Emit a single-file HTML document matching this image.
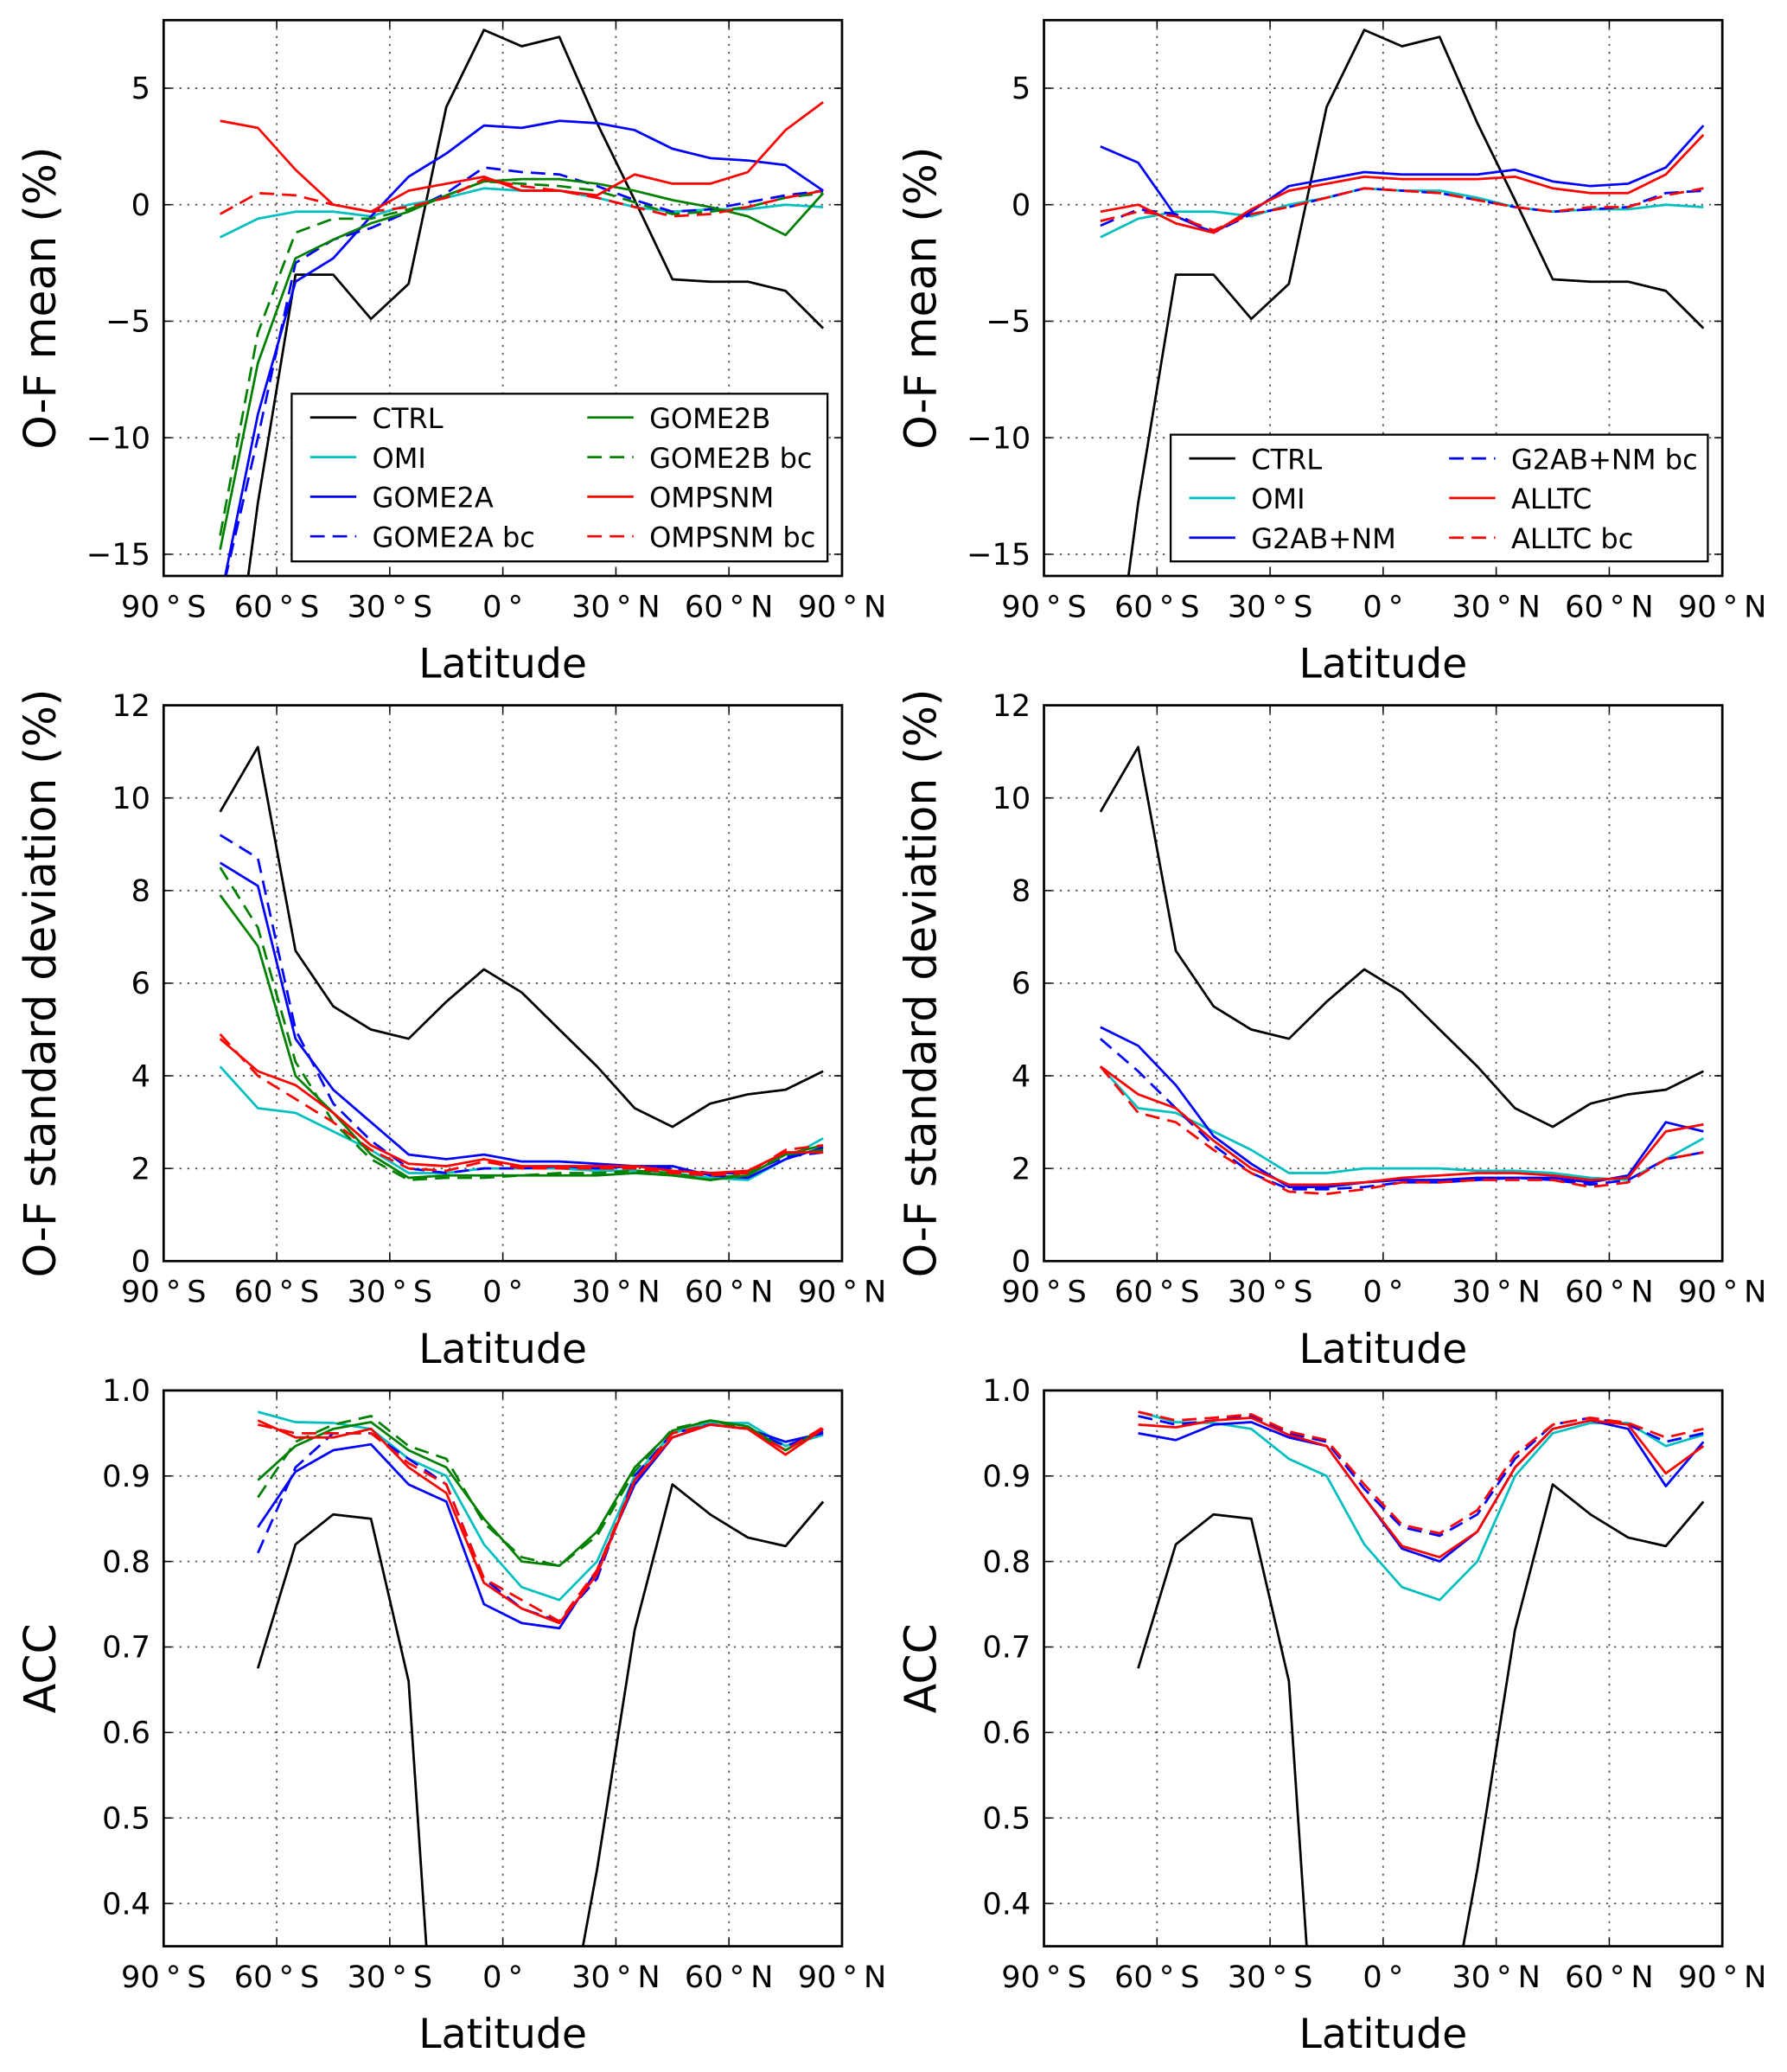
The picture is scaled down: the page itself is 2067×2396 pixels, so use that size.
<!DOCTYPE html>
<html><head><meta charset="utf-8"><style>
html,body{margin:0;padding:0;background:#fff;width:2067px;height:2396px;overflow:hidden}
svg{display:block}
text{font-family:"DejaVu Sans","Liberation Sans",sans-serif;fill:#000}
</style></head><body>
<svg id="fig" xmlns="http://www.w3.org/2000/svg" width="2067" height="2396" viewBox="0 0 1354 1569"></svg>
<script>
const lat17=[-75,-65,-55,-45,-35,-25,-15,-5,5,15,25,35,45,55,65,75,85];
const lat16=[-65,-55,-45,-35,-25,-15,-5,5,15,25,35,45,55,65,75,85];
const xTicks=[-90,-60,-30,0,30,60,90];
const xTickLabels=["90\u2009°\u2009S","60\u2009°\u2009S","30\u2009°\u2009S","0\u2009°","30\u2009°\u2009N","60\u2009°\u2009N","90\u2009°\u2009N"];
const meanTicks=[5,0,-5,-10,-15];
const meanTickLabels=["5","0","\u22125","\u221210","\u221215"];
const sdTicks=[0,2,4,6,8,10,12];
const accTicks=[0.4,0.5,0.6,0.7,0.8,0.9,1.0];
const accTickLabels=["0.4","0.5","0.6","0.7","0.8","0.9","1.0"];

const meanCTRL=[-25,-12.8,-3,-3,-4.9,-3.4,4.2,7.5,6.8,7.2,3.5,0.2,-3.2,-3.3,-3.3,-3.7,-5.3];
const meanOMI=[-1.4,-0.6,-0.3,-0.3,-0.5,0.0,0.3,0.7,0.6,0.6,0.3,-0.1,-0.3,-0.2,-0.2,0.0,-0.1];
const meanGOME2A=[-17,-9,-3.3,-2.3,-0.5,1.2,2.2,3.4,3.3,3.6,3.5,3.2,2.4,2.0,1.9,1.7,0.6];
const meanGOME2Abc=[-17,-10,-2.5,-1.5,-1.0,-0.3,0.5,1.6,1.4,1.3,0.8,0.2,-0.3,-0.2,0.1,0.4,0.6];
const meanGOME2B=[-14.8,-6.8,-2.3,-1.5,-0.8,-0.3,0.4,1.0,1.1,1.1,0.9,0.6,0.2,-0.1,-0.5,-1.3,0.5];
const meanGOME2Bbc=[-14.2,-5.5,-1.2,-0.6,-0.6,-0.2,0.4,1.0,0.9,0.8,0.6,0.1,-0.4,-0.3,-0.1,0.3,0.5];
const meanOMPSNM=[3.6,3.3,1.5,0.0,-0.3,0.6,0.9,1.2,0.6,0.6,0.4,1.3,0.9,0.9,1.4,3.2,4.4];
const meanOMPSNMbc=[-0.4,0.5,0.4,0.0,-0.3,-0.1,0.3,1.1,0.8,0.6,0.3,-0.1,-0.5,-0.4,-0.1,0.3,0.6];
const meanG2AB=[2.5,1.8,-0.5,-1.2,-0.3,0.8,1.1,1.4,1.3,1.3,1.3,1.5,1.0,0.8,0.9,1.6,3.4];
const meanG2ABbc=[-0.9,-0.2,-0.4,-1.2,-0.4,-0.1,0.3,0.7,0.6,0.5,0.2,-0.1,-0.3,-0.2,-0.1,0.5,0.6];
const meanALLTC=[-0.3,0.0,-0.8,-1.2,-0.2,0.6,0.9,1.2,1.1,1.1,1.1,1.2,0.7,0.5,0.5,1.3,3.0];
const meanALLTCbc=[-0.7,-0.3,-0.5,-1.1,-0.4,-0.1,0.3,0.7,0.6,0.5,0.2,-0.1,-0.3,-0.1,-0.1,0.4,0.7];

const sdCTRL=[9.7,11.1,6.7,5.5,5.0,4.8,5.6,6.3,5.8,5.0,4.2,3.3,2.9,3.4,3.6,3.7,4.1];
const sdOMI=[4.2,3.3,3.2,2.8,2.4,1.9,1.9,2.0,2.0,2.0,1.95,1.95,1.9,1.8,1.75,2.2,2.65];
const sdGOME2A=[8.6,8.1,4.8,3.7,3.0,2.3,2.2,2.3,2.15,2.15,2.1,2.05,2.05,1.85,1.8,2.2,2.45];
const sdGOME2Abc=[9.2,8.7,5.0,3.4,2.6,2.0,1.9,2.0,2.0,2.05,2.0,2.05,2.0,1.9,1.9,2.25,2.35];
const sdGOME2B=[7.9,6.8,4.0,3.2,2.3,1.8,1.85,1.85,1.85,1.85,1.85,1.9,1.85,1.75,1.85,2.3,2.5];
const sdGOME2Bbc=[8.5,7.2,4.3,3.0,2.2,1.75,1.8,1.8,1.85,1.9,1.9,1.95,1.9,1.75,1.9,2.3,2.4];
const sdOMPSNM=[4.8,4.1,3.8,3.2,2.5,2.1,2.05,2.2,2.05,2.05,2.05,2.05,1.95,1.9,1.95,2.35,2.35];
const sdOMPSNMbc=[4.9,4.0,3.5,3.0,2.4,2.0,1.95,2.15,2.0,2.0,2.0,2.0,1.9,1.85,1.9,2.4,2.5];
const sdG2AB=[5.05,4.65,3.8,2.7,2.1,1.6,1.6,1.7,1.75,1.75,1.8,1.8,1.8,1.7,1.85,3.0,2.8];
const sdG2ABbc=[4.8,4.1,3.3,2.5,1.9,1.55,1.55,1.6,1.7,1.7,1.75,1.8,1.75,1.65,1.75,2.2,2.35];
const sdALLTC=[4.2,3.6,3.3,2.6,2.0,1.65,1.65,1.7,1.8,1.85,1.9,1.9,1.85,1.75,1.8,2.8,2.95];
const sdALLTCbc=[4.2,3.2,3.0,2.4,1.9,1.5,1.45,1.55,1.7,1.7,1.75,1.75,1.75,1.6,1.7,2.2,2.35];

const accCTRL=[0.675,0.82,0.855,0.85,0.66,0.0,-0.2,-0.2,0.2,0.44,0.72,0.89,0.855,0.828,0.818,0.87];
const accOMI=[0.975,0.963,0.962,0.955,0.92,0.9,0.82,0.77,0.755,0.80,0.90,0.95,0.962,0.962,0.935,0.948];
const accGOME2A=[0.84,0.905,0.93,0.937,0.89,0.87,0.75,0.728,0.722,0.79,0.89,0.945,0.96,0.955,0.94,0.95];
const accGOME2Abc=[0.81,0.91,0.95,0.95,0.92,0.89,0.78,0.745,0.73,0.78,0.90,0.95,0.96,0.955,0.935,0.952];
const accGOME2B=[0.895,0.935,0.955,0.963,0.93,0.91,0.85,0.80,0.795,0.835,0.91,0.953,0.965,0.958,0.93,0.955];
const accGOME2Bbc=[0.875,0.94,0.96,0.97,0.935,0.92,0.845,0.805,0.795,0.83,0.905,0.955,0.965,0.955,0.93,0.955];
const accOMPSNM=[0.965,0.945,0.945,0.955,0.91,0.88,0.775,0.745,0.728,0.785,0.895,0.945,0.96,0.955,0.925,0.955];
const accOMPSNMbc=[0.96,0.95,0.95,0.95,0.915,0.89,0.78,0.755,0.73,0.79,0.895,0.95,0.96,0.955,0.93,0.957];
const accG2AB=[0.95,0.942,0.96,0.963,0.945,0.935,0.875,0.815,0.80,0.835,0.91,0.955,0.965,0.955,0.888,0.94];
const accG2ABbc=[0.97,0.96,0.965,0.97,0.95,0.94,0.885,0.84,0.83,0.855,0.92,0.96,0.968,0.96,0.94,0.95];
const accALLTC=[0.96,0.957,0.965,0.968,0.948,0.935,0.875,0.818,0.805,0.835,0.91,0.955,0.965,0.96,0.903,0.935];
const accALLTCbc=[0.975,0.965,0.968,0.972,0.952,0.942,0.89,0.843,0.833,0.86,0.925,0.96,0.968,0.962,0.945,0.955];

const NS="http://www.w3.org/2000/svg";
const svg=document.getElementById('fig');
function mk(tag,attrs,parent){const e=document.createElementNS(NS,tag);for(const k in attrs)e.setAttribute(k,attrs[k]);(parent||svg).appendChild(e);return e;}
const DASH="11,6";
let clipId=0;

function panel(o){
  const g=mk('g',{});
  
  
  const L=o.x0,R=o.x0+514,T=o.y0,B=o.y0+421;
  const xs=v=>L+(v+90)/180*(R-L);
  const ys=v=>B-(v-o.ymin)/(o.ymax-o.ymin)*(B-T);
  xTicks.forEach(t=>{if(t>-90&&t<90){const l=mk('line',{x1:xs(t),x2:xs(t),y1:T,y2:B,stroke:'#555','stroke-width':1.2,'stroke-dasharray':'1.5,4.5'},g);}});
  o.yTicks.forEach(t=>{const y=ys(t);if(y>T+1&&y<B-1){const l=mk('line',{x1:L,x2:R,y1:y,y2:y,stroke:'#555','stroke-width':1.2,'stroke-dasharray':'1.5,4.5'},g);}});
  xTicks.forEach((t,i)=>{
    mk('line',{x1:xs(t),x2:xs(t),y1:B,y2:B-6,stroke:'#000','stroke-width':1},g);
    mk('line',{x1:xs(t),x2:xs(t),y1:T,y2:T+6,stroke:'#000','stroke-width':1},g);
    const tx=mk('text',{x:xs(t),y:B+31,'text-anchor':'middle','font-size':23},g);
    tx.textContent=xTickLabels[i];
    
  });
  o.yTicks.forEach((t,i)=>{
    const y=ys(t);
    mk('line',{x1:L,x2:L+6,y1:y,y2:y,stroke:'#000','stroke-width':1},g);
    mk('line',{x1:R,x2:R-6,y1:y,y2:y,stroke:'#000','stroke-width':1},g);
    const tx=mk('text',{x:L-10,y:y+8,'text-anchor':'end','font-size':23},g);
    tx.textContent=o.yLabels[i];
    
  });
  const cid='c'+(clipId++);
  const cp=mk('clipPath',{id:cid},g);mk('rect',{x:L,y:T,width:R-L,height:B-T},cp);
  const sg=mk('g',{'clip-path':'url(#'+cid+')'},g);
  o.series.forEach(s=>{
    const pts=s.v.map((v,i)=>xs(s.lat[i]).toFixed(1)+','+ys(v).toFixed(1)).join(' ');
    const p=mk('polyline',{points:pts,fill:'none',stroke:s.c,'stroke-width':1.8,'stroke-linejoin':'round'},sg);
    if(s.d)p.setAttribute('stroke-dasharray',DASH);
    
    
  });
  const fr=mk('rect',{x:L,y:T,width:R-L,height:B-T,fill:'none',stroke:'#000','stroke-width':1.8},g);
  
  const xl=mk('text',{x:(L+R)/2,y:B+77,'text-anchor':'middle','font-size':31},g);
  xl.textContent='Latitude';
  const yx=o.x0-82,yc=(T+B)/2;
  const yl=mk('text',{x:yx,y:yc,'text-anchor':'middle','font-size':33,transform:'rotate(-90 '+yx+' '+yc+')'},g);
  yl.textContent=o.ytitle;
  if(o.legend){
    const lg=o.legend;
    const lgg=mk('g',{},g);
    
    mk('rect',{x:lg.x,y:lg.y,width:lg.w,height:lg.h,fill:'#fff',stroke:'#000','stroke-width':1.5},lgg);
    lg.items.forEach((it,i)=>{
      const col=Math.floor(i/lg.rows),row=i%lg.rows;
      const lx=lg.x+14+col*lg.gap,ly=lg.y+18+row*30;
      const l=mk('line',{x1:lx,x2:lx+35,y1:ly,y2:ly,stroke:it.c,'stroke-width':1.8},lgg);
      if(it.d)l.setAttribute('stroke-dasharray',DASH);
      const t=mk('text',{x:lx+47,y:ly+8,'font-size':21},lgg);
      t.textContent=it.n;
      
    });
  }
}
const S=(n,v,c,d,lat)=>({n,v,c,d,lat:lat||lat17});
const leftMean=[S('CTRL',meanCTRL,'#000'),S('OMI',meanOMI,'#00bfbf'),S('GOME2A',meanGOME2A,'#0000ff'),S('GOME2A bc',meanGOME2Abc,'#0000ff',1),S('GOME2B',meanGOME2B,'#008000'),S('GOME2B bc',meanGOME2Bbc,'#008000',1),S('OMPSNM',meanOMPSNM,'#ff0000'),S('OMPSNM bc',meanOMPSNMbc,'#ff0000',1)];
const rightMean=[S('CTRL',meanCTRL,'#000'),S('OMI',meanOMI,'#00bfbf'),S('G2AB+NM',meanG2AB,'#0000ff'),S('G2AB+NM bc',meanG2ABbc,'#0000ff',1),S('ALLTC',meanALLTC,'#ff0000'),S('ALLTC bc',meanALLTCbc,'#ff0000',1)];
const leftSd=[S('CTRL',sdCTRL,'#000'),S('OMI',sdOMI,'#00bfbf'),S('GOME2A',sdGOME2A,'#0000ff'),S('GOME2A bc',sdGOME2Abc,'#0000ff',1),S('GOME2B',sdGOME2B,'#008000'),S('GOME2B bc',sdGOME2Bbc,'#008000',1),S('OMPSNM',sdOMPSNM,'#ff0000'),S('OMPSNM bc',sdOMPSNMbc,'#ff0000',1)];
const rightSd=[S('CTRL',sdCTRL,'#000'),S('OMI',sdOMI,'#00bfbf'),S('G2AB+NM',sdG2AB,'#0000ff'),S('G2AB+NM bc',sdG2ABbc,'#0000ff',1),S('ALLTC',sdALLTC,'#ff0000'),S('ALLTC bc',sdALLTCbc,'#ff0000',1)];
const leftAcc=[S('CTRL',accCTRL,'#000',0,lat16),S('OMI',accOMI,'#00bfbf',0,lat16),S('GOME2A',accGOME2A,'#0000ff',0,lat16),S('GOME2A bc',accGOME2Abc,'#0000ff',1,lat16),S('GOME2B',accGOME2B,'#008000',0,lat16),S('GOME2B bc',accGOME2Bbc,'#008000',1,lat16),S('OMPSNM',accOMPSNM,'#ff0000',0,lat16),S('OMPSNM bc',accOMPSNMbc,'#ff0000',1,lat16)];
const rightAcc=[S('CTRL',accCTRL,'#000',0,lat16),S('OMI',accOMI,'#00bfbf',0,lat16),S('G2AB+NM',accG2AB,'#0000ff',0,lat16),S('G2AB+NM bc',accG2ABbc,'#0000ff',1,lat16),S('ALLTC',accALLTC,'#ff0000',0,lat16),S('ALLTC bc',accALLTCbc,'#ff0000',1,lat16)];

const meanCfg={ymin:-15.93,ymax:7.92,yTicks:meanTicks,yLabels:meanTickLabels,ytitle:'O-F mean (%)'};
const sdCfg={ymin:0,ymax:12,yTicks:sdTicks,yLabels:sdTicks.map(String),ytitle:'O-F standard deviation (%)'};
const accCfg={ymin:0.35,ymax:1.0,yTicks:accTicks,yLabels:accTickLabels,ytitle:'ACC'};

panel(Object.assign({name:'mean-panel-left',x0:124,y0:15,series:leftMean,legend:{x:221,y:298,w:406,h:127,rows:4,gap:210,items:leftMean}},meanCfg));
panel(Object.assign({name:'mean-panel-right',x0:791,y0:15,series:rightMean,legend:{x:887,y:329,w:407,h:96,rows:3,gap:197,items:rightMean}},meanCfg));
panel(Object.assign({name:'stddev-panel-left',x0:124,y0:534,series:leftSd},sdCfg));
panel(Object.assign({name:'stddev-panel-right',x0:791,y0:534,series:rightSd},sdCfg));
panel(Object.assign({name:'acc-panel-left',x0:124,y0:1053,series:leftAcc},accCfg));
panel(Object.assign({name:'acc-panel-right',x0:791,y0:1053,series:rightAcc},accCfg));
</script>
</body></html>
